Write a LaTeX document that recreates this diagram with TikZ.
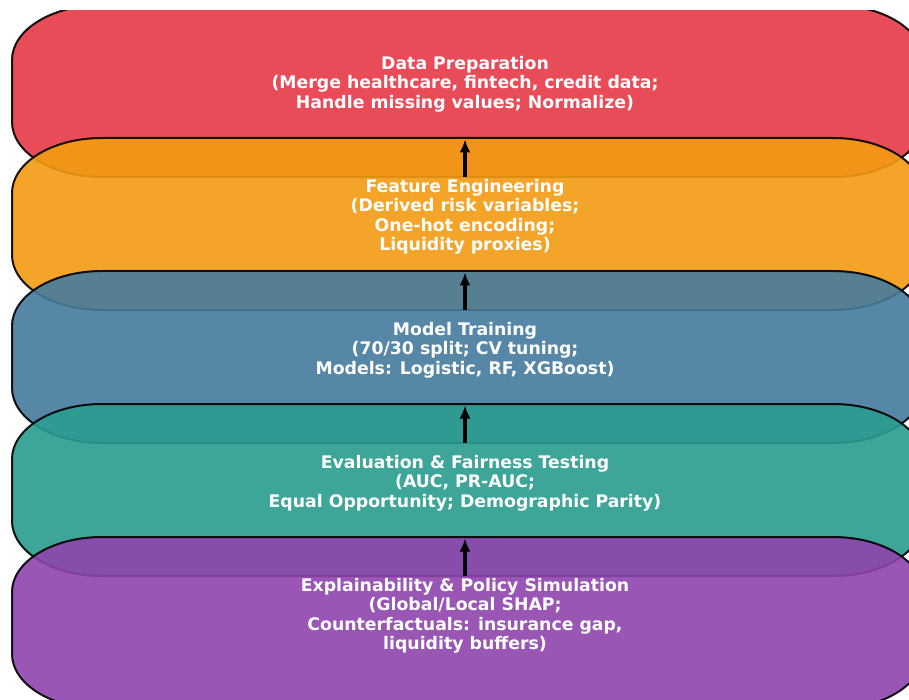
\documentclass[tikz,border=0pt]{standalone}
\usepackage{fontspec}
\setmainfont{DejaVu Sans}
\usetikzlibrary{arrows.meta,positioning}
\definecolor{prepred}{HTML}{E63946}
\definecolor{featorange}{HTML}{F39C12}
\definecolor{trainblue}{HTML}{457B9D}
\definecolor{evalteal}{HTML}{2A9D8F}
\definecolor{explpurple}{HTML}{8E44AD}
\begin{document}
\begin{tikzpicture}[x=1pt, y=-1pt,
    stage/.style={minimum width=911pt, minimum height=172pt, inner sep=0pt, outer sep=0pt},
    stagefill/.style={draw=black, line width=2pt, fill=#1, opacity=0.9},
    stagetext/.style={text=white, font=\fontsize{17.3}{19.5}\selectfont\bfseries, align=center},
    flow/.style={-{Latex[length=13pt,width=11pt]}, line width=4pt, shorten >=1.5pt}]
  \useasboundingbox (0,0) rectangle (909,700);
  \fill[white] (0,0) rectangle (909,700);
  \clip (0,11) rectangle (909,700);

  % the five stages, stacked so that they overlap
  \node[stage] (prep) at (467.5,91) {};
  \node[stage, below=-39pt of prep] (feat) {};
  \node[stage, below=-39pt of feat] (train) {};
  \node[stage, below=-39pt of train] (eval) {};
  \node[stage, below=-39pt of eval] (expl) {};

  % frames with wide, flat corners
  \foreach \s/\c in {prep/prepred, feat/featorange, train/trainblue, eval/evalteal, expl/explpurple}
    \path[stagefill=\c] ([xshift=90pt]\s.north west) -- ([xshift=-90pt]\s.north east)
      arc[start angle=90, end angle=0, x radius=90pt, y radius=55pt]
      -- ([yshift=55pt]\s.south east)
      arc[start angle=0, end angle=-90, x radius=90pt, y radius=55pt]
      -- ([xshift=90pt]\s.south west)
      arc[start angle=270, end angle=180, x radius=90pt, y radius=55pt]
      -- ([yshift=-55pt]\s.north west)
      arc[start angle=180, end angle=90, x radius=90pt, y radius=55pt] -- cycle;

  \node[stagetext] (prep-text) at ([shift={(-2.5pt,7pt)}]prep.center)
    {Data Preparation\\(Merge healthcare, fintech, credit data;\\Handle missing values; Normalize)};
  \node[stagetext] (feat-text) at ([shift={(-2.5pt,7pt)}]feat.center)
    {Feature Engineering\\(Derived risk variables;\\One-hot encoding;\\Liquidity proxies)};
  \node[stagetext] (train-text) at ([shift={(-2.5pt,7pt)}]train.center)
    {Model Training\\(70/30 split; CV tuning;\\Models: Logistic, RF, XGBoost)};
  \node[stagetext] (eval-text) at ([shift={(-2.5pt,7pt)}]eval.center)
    {Evaluation \& Fairness Testing\\(AUC, PR-AUC;\\Equal Opportunity; Demographic Parity)};
  \node[stagetext] (expl-text) at ([shift={(-2.5pt,7pt)}]expl.center)
    {Explainability \& Policy Simulation\\(Global/Local SHAP;\\Counterfactuals: insurance gap,\\liquidity buffers)};

  % arrows across the overlaps
  \foreach \a/\b in {prep/feat, feat/train, train/eval, eval/expl}
    \draw[flow] ([xshift=-2.5pt]\a.south) -- ([xshift=-2.5pt]\b.north);
\end{tikzpicture}
\end{document}
